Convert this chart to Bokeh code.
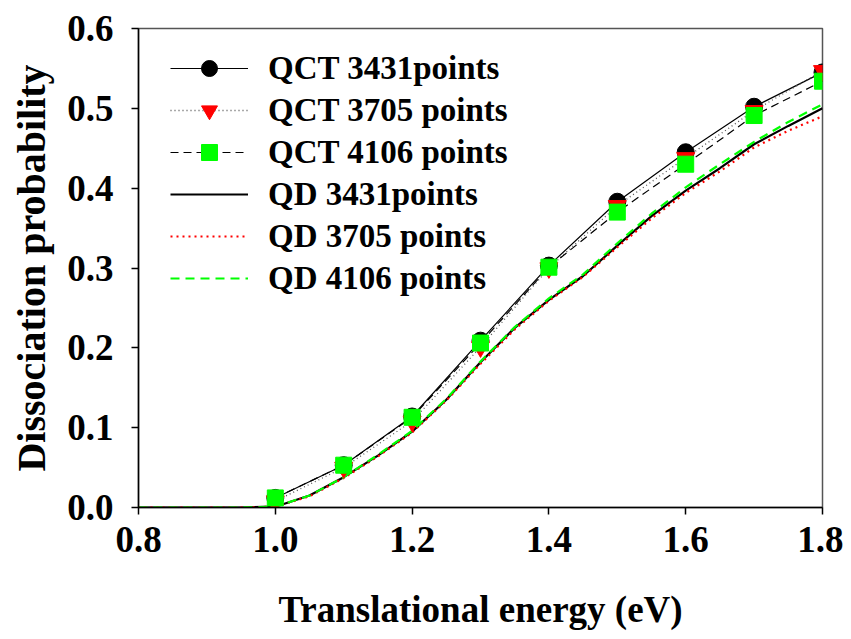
from bokeh.plotting import figure
from bokeh.models import Legend, LegendItem, FixedTicker, Range1d
from bokeh.embed import file_html
from bokeh.resources import INLINE

# ---- data ----
qct_x = [1.0, 1.1, 1.2, 1.3, 1.4, 1.5, 1.6, 1.7, 1.8]
qct_3431 = [0.012, 0.053, 0.114, 0.209, 0.303, 0.383, 0.445, 0.502, 0.545]
qct_3705 = [0.008, 0.050, 0.108, 0.201, 0.300, 0.378, 0.438, 0.497, 0.547]
qct_4106 = [0.012, 0.053, 0.113, 0.206, 0.301, 0.370, 0.430, 0.491, 0.534]

qd_x = [0.80, 0.85, 0.90, 0.95, 1.00, 1.05, 1.10, 1.15, 1.20, 1.25, 1.30,
        1.35, 1.40, 1.45, 1.50, 1.55, 1.60, 1.65, 1.70, 1.75, 1.80]
qd_3431 = [0, 0, 0, 0, 0.001, 0.015, 0.038, 0.065, 0.095, 0.135, 0.182,
           0.225, 0.260, 0.290, 0.328, 0.365, 0.397, 0.425, 0.455, 0.478, 0.500]
qd_3705 = [0, 0, 0, 0, 0.001, 0.014, 0.037, 0.064, 0.094, 0.134, 0.180,
           0.223, 0.259, 0.289, 0.326, 0.362, 0.394, 0.421, 0.451, 0.472, 0.490]
qd_4106 = [0, 0, 0, 0, 0.001, 0.015, 0.038, 0.066, 0.096, 0.136, 0.183,
           0.226, 0.262, 0.292, 0.331, 0.368, 0.401, 0.430, 0.458, 0.483, 0.505]

x_ticks = [0.8, 1.0, 1.2, 1.4, 1.6, 1.8]
y_ticks = [0.0, 0.1, 0.2, 0.3, 0.4, 0.5, 0.6]
labels = ["QCT 3431points", "QCT 3705 points", "QCT 4106 points",
          "QD 3431points", "QD 3705 points", "QD 4106 points"]

FONT = "Liberation Serif"

p = figure(frame_width=684, frame_height=479,
           x_range=Range1d(0.8, 1.8), y_range=Range1d(0.0, 0.6),
           output_backend="svg", toolbar_location=None,
           min_border_left=138, min_border_top=28,
           min_border_right=21, min_border_bottom=128)
p.background_fill_color = "white"
p.border_fill_color = "white"
p.grid.visible = False
p.outline_line_color = "#555555"
p.outline_line_width = 1.5

for ax in (p.xaxis[0], p.yaxis[0]):
    ax.axis_line_color = "black"
    ax.axis_line_width = 1.5
    ax.major_tick_line_color = "black"
    ax.major_tick_line_width = 1.5
    ax.major_tick_out = 7
    ax.major_tick_in = 0
    ax.minor_tick_line_color = None
    ax.major_label_text_font = FONT
    ax.major_label_text_font_style = "bold"
    ax.major_label_text_font_size = "37px"
    ax.major_label_text_color = "black"
    ax.axis_label_text_font = FONT
    ax.axis_label_text_font_style = "bold"
    ax.axis_label_text_color = "black"

p.xaxis.axis_label_text_font_size = "37px"
p.yaxis.axis_label_text_font_size = "40px"
p.xaxis.ticker = FixedTicker(ticks=x_ticks)
p.yaxis.ticker = FixedTicker(ticks=y_ticks)
p.xaxis.major_label_overrides = {t: f"{t:.1f}" for t in x_ticks}
p.yaxis.major_label_overrides = {t: f"{t:.1f}" for t in y_ticks}
p.xaxis.major_label_standoff = 12
p.yaxis.major_label_standoff = 18
p.xaxis.axis_label = "Translational energy (eV)"
p.yaxis.axis_label = "Dissociation probability"
p.xaxis.axis_label_standoff = 34
p.yaxis.axis_label_standoff = 10

# QCT lines
l1 = p.line(qct_x, qct_3431, line_color="black", line_width=1.2)
l2 = p.line(qct_x, qct_3705, line_color="#555555", line_width=1.3, line_dash="1 3")
l3 = p.line(qct_x, qct_4106, line_color="black", line_width=1.2, line_dash="8 5")
# QD lines
l4 = p.line(qd_x, qd_3431, line_color="black", line_width=2.2)
l5 = p.line(qd_x, qd_3705, line_color="#ff0000", line_width=2.2, line_dash="2 4")
l6 = p.line(qd_x, qd_4106, line_color="#00ff00", line_width=2.2, line_dash="9 6")
# QCT markers
m1 = p.scatter(qct_x, qct_3431, marker="circle", size=17, fill_color="black", line_color="black")
m2 = p.scatter(qct_x, qct_3705, marker="inverted_triangle", size=18, fill_color="#ff0000", line_color="#ff0000")
m3 = p.scatter(qct_x, qct_4106, marker="square", size=16, fill_color="#00ff00", line_color="#00ff00")

legend = Legend(items=[
    LegendItem(label=labels[0], renderers=[l1, m1]),
    LegendItem(label=labels[1], renderers=[l2, m2]),
    LegendItem(label=labels[2], renderers=[l3, m3]),
    LegendItem(label=labels[3], renderers=[l4]),
    LegendItem(label=labels[4], renderers=[l5]),
    LegendItem(label=labels[5], renderers=[l6]),
], location=(32, 209))
legend.border_line_color = None
legend.background_fill_alpha = 0
legend.padding = 0
legend.margin = 0
legend.spacing = 2
legend.glyph_width = 78
legend.glyph_height = 40
legend.label_height = 40
legend.label_standoff = 20
legend.label_text_font = FONT
legend.label_text_font_style = "bold"
legend.label_text_font_size = "33px"
legend.label_text_color = "black"
p.add_layout(legend, "center")

open("out.html", "w").write(file_html(p, INLINE))
